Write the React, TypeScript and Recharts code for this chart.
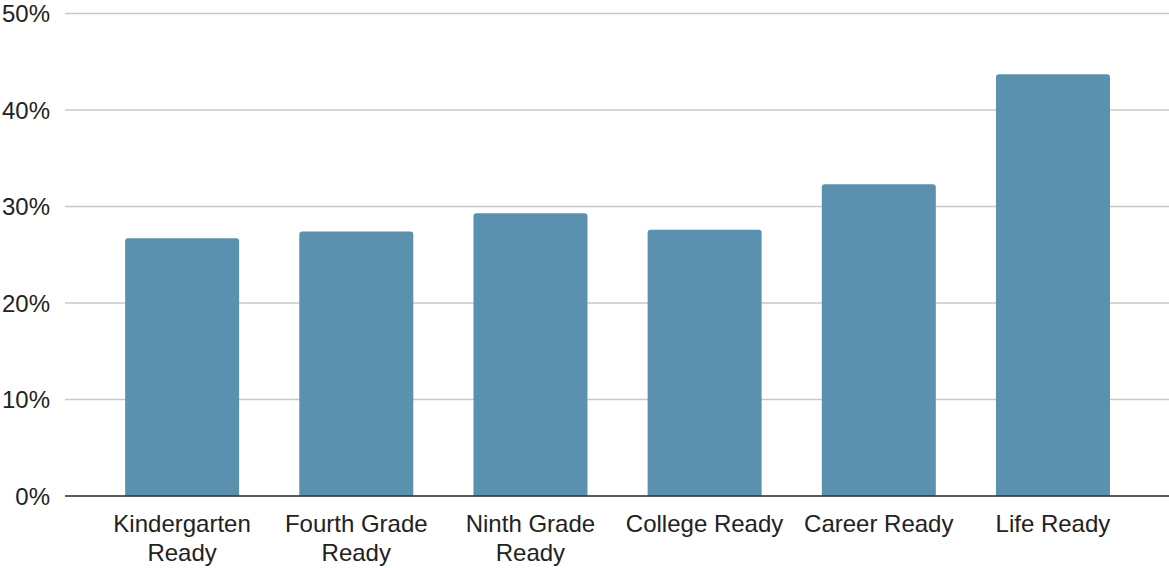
import React from "react";
import { BarChart, Bar, XAxis, YAxis, CartesianGrid } from "recharts";

const categories = [
  "Kindergarten Ready",
  "Fourth Grade Ready",
  "Ninth Grade Ready",
  "College Ready",
  "Career Ready",
  "Life Ready",
];
const values = [26.7, 27.4, 29.3, 27.6, 32.3, 43.7];
const yTicks = [0, 10, 20, 30, 40, 50];

const data = categories.map((name, i) => ({ name, value: values[i] }));

const FONT = "'Liberation Sans', Arial, Helvetica, sans-serif";
const FONT_SIZE = 24;
const MAX_LABEL_WIDTH = 168;

let ctx: CanvasRenderingContext2D | null = null;
function measure(s: string): number {
  if (!ctx) {
    const c = document.createElement("canvas");
    ctx = c.getContext("2d");
  }
  if (!ctx) return s.length * FONT_SIZE * 0.55;
  ctx.font = `${FONT_SIZE}px ${FONT}`;
  return ctx.measureText(s).width;
}

function wrap(label: string): string[] {
  const words = label.split(" ");
  const lines: string[] = [];
  let cur = "";
  for (const w of words) {
    const next = cur ? `${cur} ${w}` : w;
    if (cur && measure(next) > MAX_LABEL_WIDTH) {
      lines.push(cur);
      cur = w;
    } else {
      cur = next;
    }
  }
  if (cur) lines.push(cur);
  return lines;
}

const XTick = (props: any) => {
  const { x, y, payload } = props;
  const lines = wrap(String(payload.value));
  return (
    <text
      x={x}
      y={y + 36}
      textAnchor="middle"
      fill="#222222"
      fontSize={FONT_SIZE}
      fontFamily={FONT}
    >
      {lines.map((l, i) => (
        <tspan key={i} x={x} dy={i === 0 ? 0 : 28.5}>
          {l}
        </tspan>
      ))}
    </text>
  );
};

export default function App() {
  return (
    <div style={{ position: "absolute", left: 0, top: 0, width: 1169, height: 568, background: "#fff" }}>
      <BarChart
        width={1169}
        height={568}
        data={data}
        margin={{ top: 13.5, right: 0, bottom: 0, left: 0 }}
        barCategoryGap="17.3%"
      >
        <CartesianGrid horizontal vertical={false} stroke="#c8c8c8" strokeWidth={1.4} />
        <XAxis
          dataKey="name"
          height={72}
          padding={{ left: 30, right: 29 }}
          axisLine={{ stroke: "#333333", strokeWidth: 1.5 }}
          tickLine={false}
          tickSize={0}
          tickMargin={0}
          interval={0}
          tick={<XTick />}
        />
        <YAxis
          width={65}
          domain={[0, 50]}
          ticks={yTicks}
          axisLine={false}
          tickLine={false}
          tickSize={0}
          tickMargin={15}
          tickFormatter={(v: number) => `${v}%`}
          tick={{ fill: "#222222", fontSize: FONT_SIZE, fontFamily: FONT }}
        />
        <Bar dataKey="value" fill="#5a91ae" radius={[3, 3, 0, 0]} isAnimationActive={false} />
      </BarChart>
    </div>
  );
}
